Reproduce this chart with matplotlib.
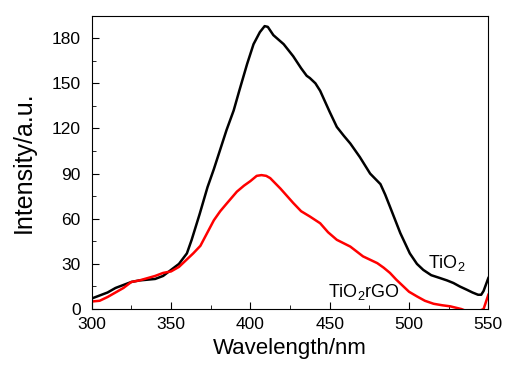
import matplotlib
matplotlib.use("Agg")
import matplotlib.pyplot as plt
from matplotlib.ticker import MultipleLocator

plt.rcParams['font.family'] = ['Liberation Sans', 'DejaVu Sans']
plt.rcParams['mathtext.fontset'] = 'custom'
plt.rcParams['mathtext.rm'] = 'Liberation Sans'

# TiO2 spectrum
wl_tio2 = [300, 305, 310, 315, 320, 325, 330, 335, 340, 345, 350, 355, 360, 363,
           368, 373, 377, 381, 385, 389.5, 393, 398, 402, 406, 409, 411, 414.5,
           421, 427, 432, 435.5, 437.5, 441, 444, 450, 454.5, 459, 463, 469,
           475.5, 482, 485, 488, 494.5, 500.5, 505, 509, 514, 519.5, 524, 528,
           532, 536.5, 540, 543.5, 545.5, 547, 550]
int_tio2 = [7, 9, 11, 14, 16, 18, 19, 19.5, 20, 22, 26, 30, 37, 46,
            63, 81, 93, 106, 119, 132, 145, 163, 176, 184, 188, 187.5, 182,
            176, 168, 160, 155, 153.5, 150, 145, 131, 121, 115, 110, 101,
            90, 83, 76, 68, 50.5, 37, 30, 26, 22.5, 20.6, 19, 17.3,
            15, 12.8, 11, 9.5, 9.5, 12, 20.6]

# TiO2rGO spectrum
wl_rgo = [300, 305, 310, 315, 320, 325, 330, 335, 340, 345, 350, 355, 360,
          364, 368.5, 373, 377, 381, 385, 391.5, 396, 400, 404, 407, 410,
          412.5, 419, 427, 432, 437.5, 444, 449, 454.5, 463, 471, 480, 484,
          488, 492, 496.5, 500, 505, 510, 515.5, 521, 526, 533, 540, 547, 550]
int_rgo = [5, 5.5, 8, 11, 14, 18, 19, 20.5, 22, 24, 25, 28, 33,
           37, 42, 51, 59, 65, 70, 78, 82, 85, 88.5, 89, 88.5,
           87, 80, 70.5, 65, 61.5, 57, 51, 46, 41.5, 35, 30.5, 27.5,
           24, 19.5, 15, 11.5, 8.4, 5.5, 3.5, 2.5, 1.8, 0, -3, 0, 9.5]

fig = plt.figure(figsize=(5.05, 3.71), dpi=100)
ax = fig.add_axes([0.1816, 0.167, 0.7854, 0.791])

ax.plot(wl_tio2, int_tio2, color='black', lw=1.8)
ax.plot(wl_rgo, int_rgo, color='#ff0000', lw=1.8)

ax.set_xlim(300, 550)
ax.set_ylim(0, 195)
ax.xaxis.set_major_locator(MultipleLocator(50))
ax.xaxis.set_minor_locator(MultipleLocator(25))
ax.yaxis.set_major_locator(MultipleLocator(30))
ax.yaxis.set_minor_locator(MultipleLocator(15))
ax.tick_params(which='both', direction='in', top=False, right=False, labelsize=12.5)
ax.tick_params(axis='x', which='major', length=5, pad=6)
ax.tick_params(axis='y', which='major', length=5, pad=8)
ax.tick_params(which='minor', length=3)

ax.set_xlabel('Wavelength/nm', fontsize=16, labelpad=4)
ax.set_ylabel('Intensity/a.u.', fontsize=18, labelpad=11)

ax.text(512, 27, 'TiO$_2$', fontsize=13, ha='left', va='baseline')
ax.text(449, 8, 'TiO$_2$rGO', fontsize=13, ha='left', va='baseline')

fig.savefig('out.png', dpi=100)
